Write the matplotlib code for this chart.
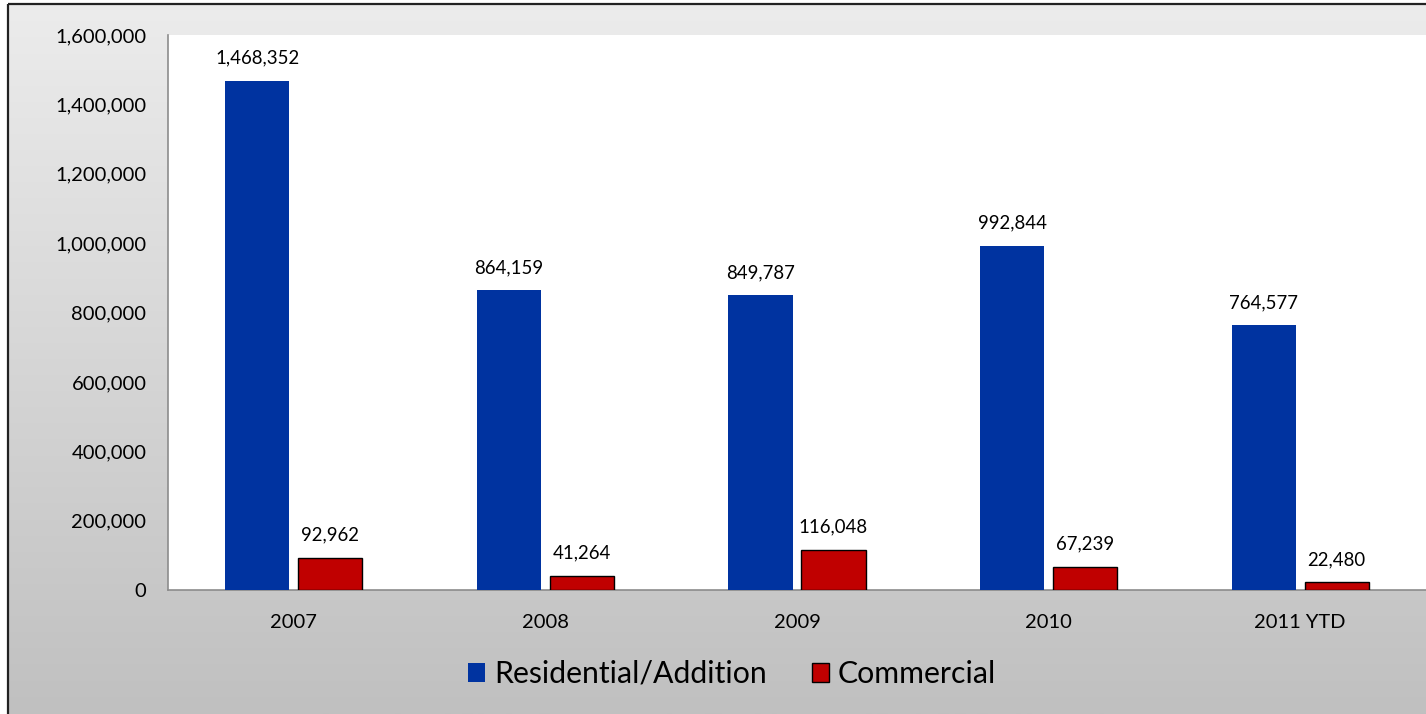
import numpy as np
import matplotlib
matplotlib.use("Agg")
import matplotlib.pyplot as plt
from matplotlib.patches import Rectangle
from matplotlib.ticker import FuncFormatter

# ---- Data ----
years = ["2007", "2008", "2009", "2010", "2011 YTD"]
residential = [1468352, 864159, 849787, 992844, 764577]
commercial = [92962, 41264, 116048, 67239, 22480]

BLUE = "#0033a0"
RED = "#c00000"

plt.rcParams["font.family"] = ["Lato", "DejaVu Sans"]

fig = plt.figure(figsize=(14.26, 7.14), dpi=100)

# gradient background with a black frame (cut off at right/bottom)
bg = fig.add_axes([0, 0, 1, 1], zorder=-10)
bg.set_xlim(0, 1426)
bg.set_ylim(714, 0)
bg.axis("off")
grad = np.linspace(0, 1, 256).reshape(-1, 1)
bg.imshow(grad, cmap=matplotlib.colors.LinearSegmentedColormap.from_list(
    "g", ["#ececec", "#c0c0c0"]), extent=[8, 1426, 714, 4], aspect="auto")
bg.add_patch(Rectangle((8, 4), 1430, 720, fill=False, edgecolor="#222222", linewidth=1.6))

ax = fig.add_axes([168 / 1426, 124 / 714, 1 - 168 / 1426, (590 - 35) / 714])
ax.set_facecolor("white")

x = np.arange(len(years))
w = 0.255
off = 0.145
b1 = ax.bar(x - off, residential, w, color=BLUE, label="Residential/Addition", zorder=3)
b2 = ax.bar(x + off, commercial, w, color=RED, edgecolor="black", linewidth=1.0,
            label="Commercial", zorder=3)

for bars, vals in [(b1, residential), (b2, commercial)]:
    for rect, v in zip(bars, vals):
        ax.annotate(f"{v:,}", (rect.get_x() + rect.get_width() / 2, v),
                    xytext=(0, 10), textcoords="offset points",
                    ha="center", va="bottom", fontsize=13.4, color="black")

ax.set_xlim(-0.5, len(years) - 0.5)
ax.set_ylim(0, 1600000)
ax.set_yticks(np.arange(0, 1600001, 200000))
ax.yaxis.set_major_formatter(FuncFormatter(lambda v, p: f"{int(v):,}"))
ax.set_xticks(x)
ax.set_xticklabels(years)
ax.tick_params(axis="both", length=0, labelsize=14.5, colors="black")
ax.tick_params(axis="y", pad=15.5)
ax.tick_params(axis="x", pad=17)

for s in ["top", "right"]:
    ax.spines[s].set_visible(False)
for s in ["left", "bottom"]:
    ax.spines[s].set_color("#8c8c8c")
    ax.spines[s].set_linewidth(1.2)

fig.legend(handles=[b1, b2], loc="center", bbox_to_anchor=(732 / 1426, 1 - 674 / 714),
           ncol=2, frameon=False, fontsize=21.8, handlelength=0.56, handleheight=0.56,
           handletextpad=0.3, columnspacing=1.5)

fig.savefig("out.png", dpi=100)
